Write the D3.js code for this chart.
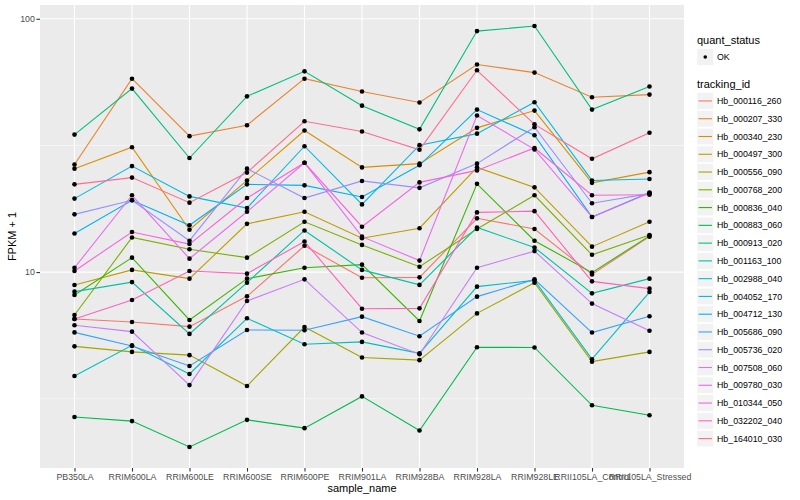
<!DOCTYPE html>
<html>
<head>
<meta charset="utf-8">
<script src="https://cdn.jsdelivr.net/npm/d3@7"></script>
<style>
  body { margin: 0; background: #ffffff; }
  text { font-family: "Liberation Sans", Arial, Helvetica, sans-serif; }
</style>
</head>
<body>
<svg id="chart" width="800" height="500"></svg>
<script>
// FPKM + 1 per sample, one line per tracking id, log10 y axis.

var samples = ["PB350LA", "RRIM600LA", "RRIM600LE", "RRIM600SE", "RRIM600PE",
  "RRIM901LA", "RRIM928BA", "RRIM928LA", "RRIM928LE", "RRII105LA_Control",
  "RRII105LA_Stressed"];

var trackingIds = ["Hb_000116_260", "Hb_000207_330", "Hb_000340_230",
  "Hb_000497_300", "Hb_000556_090", "Hb_000768_200", "Hb_000836_040",
  "Hb_000883_060", "Hb_000913_020", "Hb_001163_100", "Hb_002988_040",
  "Hb_004052_170", "Hb_004712_130", "Hb_005686_090", "Hb_005736_020",
  "Hb_007508_060", "Hb_009780_030", "Hb_010344_050", "Hb_032202_040",
  "Hb_164010_030"];

var quantStatus = ["OK"];

// values (FPKM + 1), in sample order
var hb_000116_260 = [6.53, 6.35, 6.09, 8.02, 12.7, 9.50, 9.53, 16.3, 14.8, 9.79, 13.8];
var hb_000207_330 = [26.6, 58.0, 34.4, 38.0, 58.0, 51.6, 46.7, 66.0, 61.3, 49.0, 50.2];
var hb_000340_230 = [25.6, 31.1, 14.7, 23.0, 36.2, 25.9, 26.8, 37.1, 43.4, 22.5, 24.8];
var hb_000497_300 = [8.89, 10.2, 9.42, 15.5, 17.3, 13.6, 14.9, 25.9, 21.6, 12.6, 15.8];
var hb_000556_090 = [5.09, 4.84, 4.70, 3.55, 6.07, 4.60, 4.49, 6.87, 9.08, 4.43, 4.84];
var hb_000768_200 = [6.77, 13.7, 12.3, 11.4, 15.8, 12.8, 10.5, 14.8, 20.1, 11.7, 14.0];
var hb_000836_040 = [8.12, 11.4, 6.47, 9.42, 10.4, 10.7, 6.41, 22.3, 13.3, 9.95, 13.9];
var hb_000883_060 = [2.68, 2.58, 2.04, 2.61, 2.42, 3.23, 2.37, 5.05, 5.04, 2.98, 2.72];
var hb_000913_020 = [34.9, 53.0, 28.2, 49.4, 62.0, 45.4, 36.6, 89.4, 93.6, 43.8, 54.0];
var hb_001163_100 = [8.37, 9.13, 5.70, 9.08, 14.6, 10.2, 8.90, 15.0, 12.5, 8.24, 9.42];
var hb_002988_040 = [3.89, 5.14, 3.96, 6.57, 5.19, 5.30, 4.78, 8.76, 9.27, 4.53, 8.34];
var hb_004052_170 = [19.5, 26.2, 19.9, 17.9, 31.4, 18.5, 31.7, 35.2, 46.8, 23.0, 23.3];
var hb_004712_130 = [14.2, 19.2, 15.3, 22.2, 22.0, 19.8, 26.4, 43.8, 34.7, 16.5, 20.6];
var hb_005686_090 = [5.78, 5.11, 4.26, 5.91, 5.89, 6.67, 5.58, 8.00, 9.36, 5.77, 6.69];
var hb_005736_020 = [16.9, 19.2, 13.3, 25.6, 19.6, 22.9, 21.5, 26.8, 37.3, 18.7, 20.4];
var hb_007508_060 = [6.17, 5.82, 3.58, 7.69, 9.36, 5.77, 4.74, 10.4, 12.1, 7.51, 5.87];
var hb_009780_030 = [10.4, 20.1, 11.3, 17.3, 27.0, 13.8, 11.1, 41.5, 30.5, 16.5, 20.5];
var hb_010344_050 = [10.1, 14.4, 12.9, 19.6, 27.0, 15.1, 22.6, 25.2, 30.9, 20.1, 20.2];
var hb_032202_040 = [6.53, 7.76, 10.1, 9.86, 13.2, 7.17, 7.19, 17.2, 17.4, 9.19, 8.60];
var hb_164010_030 = [22.2, 23.6, 18.8, 24.7, 39.4, 35.9, 30.4, 62.6, 38.3, 28.0, 35.5];

var seriesValues = [hb_000116_260, hb_000207_330, hb_000340_230, hb_000497_300,
  hb_000556_090, hb_000768_200, hb_000836_040, hb_000883_060, hb_000913_020,
  hb_001163_100, hb_002988_040, hb_004052_170, hb_004712_130, hb_005686_090,
  hb_005736_020, hb_007508_060, hb_009780_030, hb_010344_050, hb_032202_040,
  hb_164010_030];

var yMajor = [10, 100];
var yMinor = [Math.sqrt(10), Math.sqrt(1000)];

// ggplot default hue palette for 20 levels
var hues = ["#F8766D", "#EA8331", "#D89000", "#C09B00", "#A3A500", "#7CAE00",
  "#39B600", "#00BB4E", "#00BF7D", "#00C1A3", "#00BFC4", "#00BAE0", "#00B0F6",
  "#35A2FF", "#9590FF", "#C77CFF", "#E76BF3", "#FA62DB", "#FF62BC", "#FF6C91"];

var svg = d3.select("#chart");
var panel = {left: 40, right: 684, top: 5, bottom: 468};

var series = trackingIds.map(function(id, i) {
  return {
    id: id,
    color: hues[i],
    points: samples.map(function(s, j) { return {sample: s, value: seriesValues[i][j]}; })
  };
});

// log extent expanded by 5% like ggplot's continuous scale
var all = d3.merge(seriesValues);
var lo = Math.log10(d3.min(all)), hi = Math.log10(d3.max(all));
var pad = (hi - lo) * 0.05;

var x = d3.scalePoint().domain(samples)
  .range([panel.left, panel.right]).padding(0.6);
var y = d3.scaleLog().domain([Math.pow(10, lo - pad), Math.pow(10, hi + pad)])
  .range([panel.bottom, panel.top]);

// panel background and grid
svg.append("rect")
  .attr("x", panel.left).attr("y", panel.top)
  .attr("width", panel.right - panel.left).attr("height", panel.bottom - panel.top)
  .attr("fill", "#EBEBEB");

svg.append("g").selectAll("line").data(yMinor).enter().append("line")
  .attr("x1", panel.left).attr("x2", panel.right)
  .attr("y1", function(d) { return y(d); }).attr("y2", function(d) { return y(d); })
  .attr("stroke", "#ffffff").attr("stroke-width", 0.55);

svg.append("g").selectAll("line").data(yMajor).enter().append("line")
  .attr("x1", panel.left).attr("x2", panel.right)
  .attr("y1", function(d) { return y(d); }).attr("y2", function(d) { return y(d); })
  .attr("stroke", "#ffffff").attr("stroke-width", 1.1);

svg.append("g").selectAll("line").data(samples).enter().append("line")
  .attr("x1", function(d) { return x(d); }).attr("x2", function(d) { return x(d); })
  .attr("y1", panel.top).attr("y2", panel.bottom)
  .attr("stroke", "#ffffff").attr("stroke-width", 1.1);

// lines
var line = d3.line()
  .x(function(d) { return x(d.sample); })
  .y(function(d) { return y(d.value); });

svg.append("g").selectAll("path").data(series).enter().append("path")
  .attr("d", function(d) { return line(d.points); })
  .attr("fill", "none")
  .attr("stroke", function(d) { return d.color; })
  .attr("stroke-width", 1.1);

// points
svg.append("g").selectAll("g").data(series).enter().append("g")
  .selectAll("circle").data(function(d) { return d.points; }).enter().append("circle")
  .attr("cx", function(d) { return x(d.sample); })
  .attr("cy", function(d) { return y(d.value); })
  .attr("r", 2.3)
  .attr("fill", "#000000");

// axes
var yAxis = svg.append("g")
  .attr("transform", "translate(" + panel.left + ",0)")
  .call(d3.axisLeft(y).tickValues(yMajor).tickFormat(d3.format("d"))
    .tickSize(3.6).tickPadding(1.6));
var xAxis = svg.append("g")
  .attr("transform", "translate(0," + panel.bottom + ")")
  .call(d3.axisBottom(x).tickSize(3.6).tickPadding(2.2));

[xAxis, yAxis].forEach(function(ax) {
  ax.select(".domain").remove();
  ax.selectAll(".tick line").attr("stroke", "#333333").attr("stroke-width", 1.1);
  ax.selectAll(".tick text")
    .attr("fill", "#4D4D4D")
    .style("font-size", "8.8px")
    .style("font-family", "'Liberation Sans', Arial, sans-serif");
});

svg.append("text")
  .attr("x", (panel.left + panel.right) / 2).attr("y", 492)
  .attr("text-anchor", "middle")
  .style("font-size", "11px")
  .text("sample_name");

svg.append("text")
  .attr("transform", "translate(16," + ((panel.top + panel.bottom) / 2) + ") rotate(-90)")
  .attr("text-anchor", "middle")
  .style("font-size", "11px")
  .text("FPKM + 1");

// legends
var legendX = 697, keySize = 16.5;

svg.append("text").attr("x", legendX).attr("y", 44)
  .style("font-size", "11px").text("quant_status");

var qs = svg.append("g").selectAll("g").data(quantStatus).enter().append("g")
  .attr("transform", "translate(" + legendX + ",48.8)");
qs.append("rect").attr("width", keySize).attr("height", keySize)
  .attr("fill", "#F2F2F2").attr("stroke", "#ffffff").attr("stroke-width", 0.5);
qs.append("circle").attr("cx", keySize / 2).attr("cy", keySize / 2).attr("r", 1.8)
  .attr("fill", "#000000");
qs.append("text").attr("x", 20).attr("y", keySize / 2 + 3.1)
  .style("font-size", "8.8px").text(function(d) { return d; });

svg.append("text").attr("x", legendX).attr("y", 88.3)
  .style("font-size", "11px").text("tracking_id");

var keys = svg.append("g").selectAll("g").data(series).enter().append("g")
  .attr("transform", function(d, i) { return "translate(" + legendX + "," + (92.7 + i * 17.77) + ")"; });
keys.append("rect").attr("width", keySize).attr("height", keySize)
  .attr("fill", "#F2F2F2").attr("stroke", "#ffffff").attr("stroke-width", 0.5);
keys.append("line")
  .attr("x1", 1.5).attr("x2", keySize - 1.5)
  .attr("y1", keySize / 2).attr("y2", keySize / 2)
  .attr("stroke", function(d) { return d.color; }).attr("stroke-width", 1.1);
keys.append("text").attr("x", 20).attr("y", keySize / 2 + 3.1)
  .style("font-size", "8.8px").text(function(d) { return d.id; });
</script>
</body>
</html>
